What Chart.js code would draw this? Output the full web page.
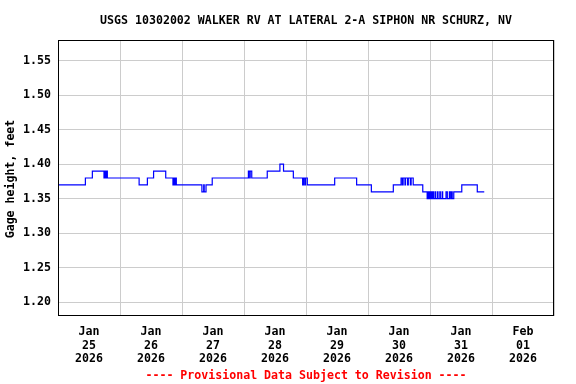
<!DOCTYPE html>
<html>
<head>
<meta charset="utf-8">
<script src="https://cdn.jsdelivr.net/npm/chart.js@4/dist/chart.umd.min.js"></script>
<style>
  html, body { margin: 0; padding: 0; background: #fff; }
  #wrap { width: 576px; height: 384px; }
</style>
</head>
<body>
<div id="wrap"><canvas id="GageChart" width="576" height="384"></canvas></div>
<script>
var title = "USGS 10302002 WALKER RV AT LATERAL 2-A SIPHON NR SCHURZ, NV";
var footer = "---- Provisional Data Subject to Revision ----";
var yTitle = "Gage height, feet";

// hours since Jan 25 2026 00:00, value holds until next point
var hours = [0, 10.6, 13.3, 17.8, 18.1, 18.5, 18.8, 19.1, 31.4, 34.6, 37.0, 41.7,
  44.5, 44.9, 45.3, 45.5, 45.8, 55.7, 56.4, 56.6, 57.3, 59.7,
  73.7, 74.2, 74.4, 75.0, 81.0, 85.9, 87.3, 91.1,
  94.7, 95.1, 95.6, 95.8, 96.5, 107.1, 115.6, 121.3, 129.8,
  132.8, 133.3, 133.6, 134.3, 134.5, 135.3, 135.6, 136.4, 136.7, 137.5,
  141.2, 142.9, 143.3, 143.6, 144.0, 144.2, 144.5, 144.7, 145.1, 145.4,
  146.0, 146.2, 146.9, 147.1, 147.8, 148.0, 148.7, 148.9, 149.6,
  150.2, 150.7, 151.5, 152.0, 152.4, 152.6, 153.2,
  156.3, 162.3, 165.0];
var gage = [1.37, 1.38, 1.39, 1.38, 1.39, 1.38, 1.39, 1.38, 1.37, 1.38, 1.39, 1.38,
  1.37, 1.38, 1.37, 1.38, 1.37, 1.36, 1.37, 1.36, 1.37, 1.38,
  1.39, 1.38, 1.39, 1.38, 1.39, 1.40, 1.39, 1.38,
  1.37, 1.38, 1.37, 1.38, 1.37, 1.38, 1.37, 1.36, 1.37,
  1.38, 1.37, 1.38, 1.37, 1.38, 1.37, 1.38, 1.37, 1.38, 1.37,
  1.36, 1.35, 1.36, 1.35, 1.36, 1.35, 1.36, 1.35, 1.36, 1.35,
  1.36, 1.35, 1.36, 1.35, 1.36, 1.35, 1.36, 1.35, 1.35,
  1.36, 1.35, 1.36, 1.35, 1.36, 1.35, 1.36,
  1.37, 1.36, 1.36];

var yTicks = [1.20, 1.25, 1.30, 1.35, 1.40, 1.45, 1.50, 1.55];
var dayLabels = [["Jan", "25", "2026"], ["Jan", "26", "2026"], ["Jan", "27", "2026"], ["Jan", "28", "2026"],
  ["Jan", "29", "2026"], ["Jan", "30", "2026"], ["Jan", "31", "2026"], ["Feb", "01", "2026"]];

var points = hours.map(function (h, i) { return { x: h, y: gage[i] }; });

var fontMono = "'DejaVu Sans Mono', 'Liberation Mono', monospace";

// title, footer, y title and the box round the plot
var decor = {
  id: 'decor',
  afterDraw: function (chart) {
    var ctx = chart.ctx, a = chart.chartArea;
    var cx = (a.left + a.right) / 2;
    ctx.save();
    ctx.strokeStyle = '#000';
    ctx.lineWidth = 1;
    ctx.strokeRect(Math.round(a.left) + 0.5, Math.round(a.top) + 0.5,
      Math.round(a.right - a.left) - 1, Math.round(a.bottom - a.top) - 1);
    ctx.font = "bold 11.6px " + fontMono;
    ctx.textAlign = 'center';
    ctx.textBaseline = 'middle';
    ctx.fillStyle = '#000';
    ctx.fillText(title, cx, 20.5);
    ctx.fillStyle = '#ff0000';
    ctx.fillText(footer, cx, 376);
    ctx.fillStyle = '#000';
    ctx.translate(11, (a.top + a.bottom) / 2 + 1);
    ctx.rotate(-Math.PI / 2);
    ctx.fillText(yTitle, 0, 0);
    ctx.restore();
  }
};

new Chart(document.getElementById("GageChart"), {
  type: 'line',
  data: {
    datasets: [{
      data: points,
      borderColor: '#0000ff',
      borderWidth: 1.2,
      pointRadius: 0,
      stepped: true,
      fill: false
    }]
  },
  options: {
    responsive: false,
    animation: false,
    layout: { padding: { top: 40, right: 22, left: 0, bottom: 0 } },
    plugins: { legend: { display: false }, tooltip: { enabled: false } },
    scales: {
      x: {
        type: 'linear',
        min: 0,
        max: 192,
        afterFit: function (s) { s.height = 68; },
        border: { display: false },
        grid: {
          drawTicks: false,
          color: function (c) {
            return (c.tick && c.tick.value % 24 === 0) ? '#cccccc' : 'rgba(0,0,0,0)';
          }
        },
        ticks: {
          stepSize: 12,
          autoSkip: false,
          maxRotation: 0,
          padding: 9,
          color: '#000',
          font: { family: fontMono, size: 11.6, weight: 'bold', lineHeight: 1.18 },
          callback: function (v) {
            if (v % 24 === 12) return dayLabels[(v - 12) / 24];
            return '';
          }
        }
      },
      y: {
        min: 1.18,
        max: 1.58,
        afterFit: function (s) { s.width = 58; },
        afterBuildTicks: function (s) {
          s.ticks = yTicks.map(function (v) { return { value: v }; });
        },
        border: { display: false },
        grid: { drawTicks: false, color: '#cccccc' },
        ticks: {
          autoSkip: false,
          padding: 7,
          color: '#000',
          font: { family: fontMono, size: 11.6, weight: 'bold' },
          callback: function (v) { return v.toFixed(2); }
        }
      }
    }
  },
  plugins: [decor]
});
</script>
</body>
</html>
